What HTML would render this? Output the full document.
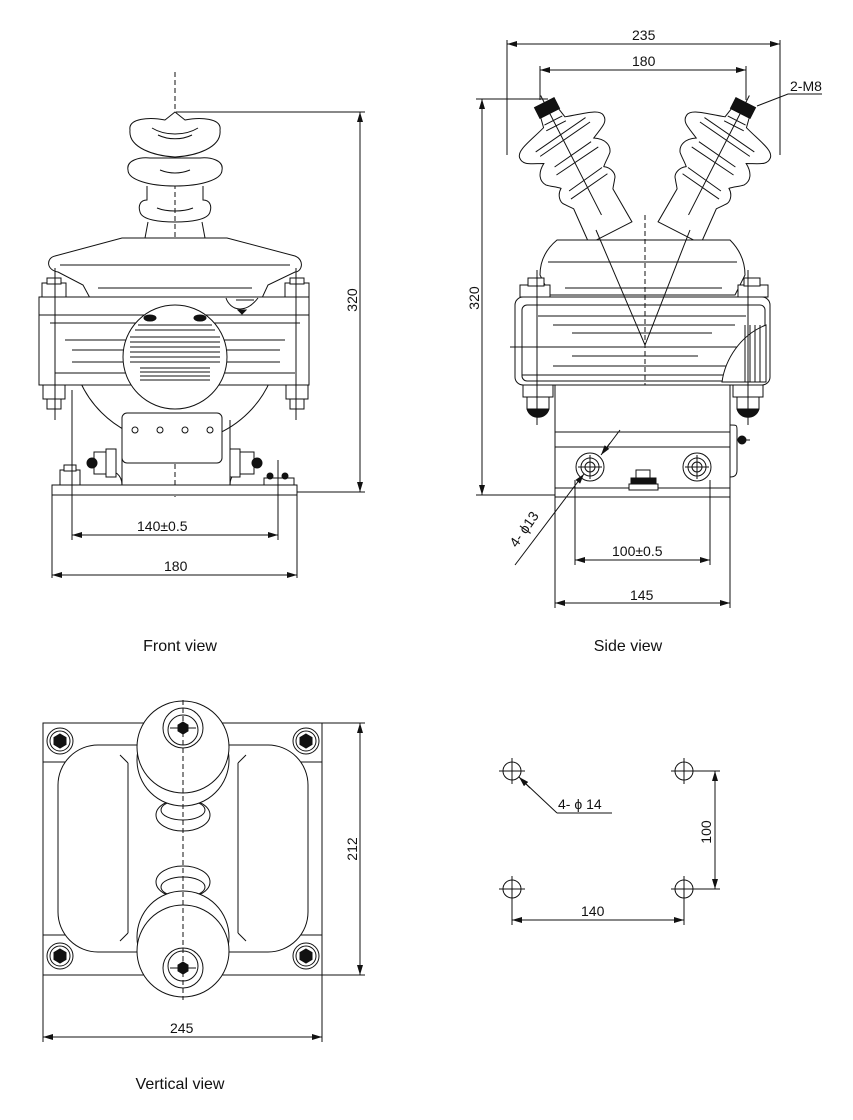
<!DOCTYPE html>
<html><head><meta charset="utf-8"><style>
html,body{margin:0;padding:0;background:#fff;}
svg{display:block;}
text{font-family:"Liberation Sans",Arial,sans-serif;fill:#111;}
</style></head><body>
<svg width="853" height="1120" viewBox="0 0 853 1120" xmlns="http://www.w3.org/2000/svg">
<defs>
<clipPath id="cb"><rect x="0" y="300" width="400" height="200"/></clipPath>
<marker id="a" viewBox="0 0 10 6" refX="10" refY="3" markerWidth="10" markerHeight="6" orient="auto-start-reverse" markerUnits="userSpaceOnUse"><path d="M0,0 L10,3 L0,6 z" fill="#111"/></marker>
<g id="ins">
  <path d="M-10,6 L-12,16 C-30,22 -46,24 -47,32 C-48,40 -40,42 -28,48 C-38,54 -40,62 -36,68 C-32,72 -28,74 -24,78 C-30,82 -32,90 -28,94 C-26,97 -24,99 -22,102 L-24,140 L24,140 L22,102 C24,99 26,97 28,94 C32,90 30,82 24,78 C28,74 32,72 36,68 C40,62 38,54 28,48 C40,42 48,40 47,32 C46,24 30,22 12,16 L10,6 Z" fill="#fff" stroke="#111" stroke-width="1"/>
  <rect x="-11" y="-6" width="22" height="12" fill="#111"/>
  <path d="M-30,34 L30,26 M-28,40 L32,32 M-20,56 L24,50 M-22,64 L28,58 M-18,84 L22,78 M-20,92 L24,86 M-10,14 L10,14 M-11,20 L11,20 M0,-14 L0,120" stroke="#111" stroke-width="1" fill="none"/>
</g>
<g id="bolt"><circle r="13" fill="#fff" stroke="#111"/><circle r="10" fill="none" stroke="#111"/><path d="M0,-7 L6,-3.5 L6,3.5 L0,7 L-6,3.5 L-6,-3.5z" fill="#111"/></g>
<g id="mh"><circle r="9" fill="none" stroke="#111"/><path d="M-13,0 H13 M0,-13 V13" stroke="#111"/></g>
</defs>
<g stroke="#111" stroke-width="1" fill="none">
<!-- FRONT VIEW -->
<line x1="175" y1="72" x2="175" y2="497" stroke-dasharray="5,3"/>
<circle cx="175" cy="339" r="104" fill="#fff" clip-path="url(#cb)"/>
<path d="M130,130 C128,118 150,117 165,120 L175,112 L185,120 C200,117 222,118 220,130 C222,148 195,156 175,157 C155,156 128,148 130,130 Z" fill="#fff"/>
<path d="M128,170 C126,160 140,157 150,158 L200,158 C210,157 224,160 222,170 C222,180 200,186 175,186 C150,186 128,180 128,170 Z" fill="#fff"/>
<path d="M147,186 L147,200 C140,200 138,206 140,212 C142,220 160,222 175,222 C190,222 208,220 210,212 C212,206 210,200 203,200 L203,186"/>
<path d="M148,222 L145,238 M202,222 L205,238"/>
<path d="M152,128 C165,136 185,136 198,128 M158,135 C168,140 182,140 192,135 M160,170 C170,174 180,174 190,170 M157,208 C167,212 183,212 193,208"/>
<path d="M122,238 L227,238 L295,256 C305,260 302,272 295,272 L268,285 L262,298 L90,298 L83,285 L58,272 C46,270 46,258 55,256 Z" fill="#fff"/>
<path d="M60,265 L290,265 M98,288 L252,288"/>
<rect x="39" y="297" width="270" height="88" fill="#fff"/>
<path d="M39,315 H309 M50,323 H300 M65,340 H285 M72,350 H280 M72,362 H280 M55,373 H295"/>
<circle cx="175" cy="357" r="52" fill="#fff"/>
<path d="M138,325 H212 M135,330 H215 M130,337 H220 M130,342 H220 M130,347 H220 M130,352 H220 M130,357 H220 M130,362 H220 M140,368 H210 M140,372 H210 M140,376 H210 M140,380 H210"/>
<ellipse cx="150" cy="318" rx="6" ry="3" fill="#111"/><ellipse cx="200" cy="318" rx="6" ry="3" fill="#111"/>
<path d="M226,298 C230,310 245,315 258,298" fill="#fff"/><path d="M236,300 H254"/><path d="M238,310 L242,314 L246,310Z" fill="#111"/>
<rect x="42" y="283" width="24" height="14" fill="#fff"/><rect x="47" y="278" width="14" height="6" fill="#fff"/>
<rect x="285" y="283" width="24" height="14" fill="#fff"/><rect x="290" y="278" width="14" height="6" fill="#fff"/>
<rect x="43" y="385" width="22" height="14" fill="#fff"/><rect x="47" y="399" width="14" height="10" fill="#fff"/>
<rect x="286" y="385" width="22" height="14" fill="#fff"/><rect x="290" y="399" width="14" height="10" fill="#fff"/>
<path d="M55,268 V420 M296,268 V420"/>
<rect x="122" y="413" width="100" height="50" rx="5" fill="#fff"/>
<circle cx="135" cy="430" r="3"/><circle cx="160" cy="430" r="3"/><circle cx="185" cy="430" r="3"/><circle cx="210" cy="430" r="3"/>
<path d="M122,420 V485 M230,420 V485 M122,485 C122,475 115,470 105,470 M230,485 C230,475 237,470 245,470"/>
<rect x="94" y="452" width="20" height="22" fill="#fff"/><rect x="106" y="449" width="10" height="28" fill="#fff"/><circle cx="92" cy="463" r="5" fill="#111"/>
<rect x="236" y="452" width="18" height="22" fill="#fff"/><rect x="230" y="449" width="10" height="28" fill="#fff"/><circle cx="257" cy="463" r="5" fill="#111"/>
<rect x="60" y="470" width="20" height="15" fill="#fff"/><rect x="64" y="465" width="12" height="6" fill="#fff"/>
<rect x="264" y="478" width="30" height="7"/><circle cx="270" cy="476" r="3" fill="#111"/><circle cx="285" cy="476" r="3" fill="#111"/>
<rect x="52" y="485" width="245" height="10" fill="#fff"/>
<path d="M72,390 V540 M278,460 V540 M52,495 V578 M297,495 V578"/>
<line x1="72" y1="535" x2="278" y2="535" marker-start="url(#a)" marker-end="url(#a)"/>
<line x1="52" y1="575" x2="297" y2="575" marker-start="url(#a)" marker-end="url(#a)"/>
<path d="M176,112 H365 M297,492 H365"/>
<line x1="360" y1="112" x2="360" y2="492" marker-start="url(#a)" marker-end="url(#a)"/>

<!-- SIDE VIEW -->
<path d="M507,40 V155 M780,40 V155 M540,66 V100 M746,66 V100"/>
<line x1="507" y1="44" x2="780" y2="44" marker-start="url(#a)" marker-end="url(#a)"/>
<line x1="540" y1="70" x2="746" y2="70" marker-start="url(#a)" marker-end="url(#a)"/>
<path d="M757,106 L788,94 H822"/>
<path d="M476,99 H548 M476,495 H556"/>
<line x1="482" y1="99" x2="482" y2="495" marker-start="url(#a)" marker-end="url(#a)"/>
<use href="#ins" transform="translate(547,108) rotate(-27)"/>
<use href="#ins" transform="translate(743,108) scale(-1,1) rotate(-27)"/>
<path d="M557,240 L730,240 C740,250 745,262 745,275 L735,295 L550,295 L540,275 C540,262 545,250 557,240 Z" fill="#fff"/>
<path d="M548,262 H737 M565,288 H722"/>
<rect x="515" y="297" width="255" height="88" rx="8" fill="#fff"/>
<rect x="522" y="305" width="243" height="76" rx="5" fill="#fff"/>
<path d="M538,316 H746 M553,325 H735 M572,333 H712 M510,347 H765 M572,356 H698 M553,366 H735 M522,375 H765"/>
<path d="M766,325 C740,335 725,360 722,382 L766,382 Z" fill="#fff"/>
<path d="M745,325 V382 M750,325 V382 M755,325 V382 M760,325 V382"/>
<path d="M596,230 L645,345 L690,230"/>
<line x1="645" y1="215" x2="645" y2="497" stroke-dasharray="5,3"/>
<rect x="520" y="285" width="30" height="12" fill="#fff"/><rect x="528" y="278" width="16" height="8" fill="#fff"/>
<rect x="738" y="285" width="30" height="12" fill="#fff"/><rect x="744" y="278" width="16" height="8" fill="#fff"/>
<rect x="523" y="385" width="30" height="12" fill="#fff"/><rect x="527" y="397" width="22" height="12" fill="#fff"/><path d="M527,409 C530,420 546,420 549,409" fill="#111"/>
<rect x="733" y="385" width="30" height="12" fill="#fff"/><rect x="737" y="397" width="22" height="12" fill="#fff"/><path d="M737,409 C740,420 756,420 759,409" fill="#111"/>
<path d="M537,270 V425 M748,270 V425"/>
<rect x="555" y="385" width="175" height="112" fill="#fff"/>
<path d="M555,432 H730 M555,447 H730 M555,488 H730"/>
<path d="M730,425 C737,425 737,425 737,430 V470 C737,475 735,477 730,477"/><path d="M737,440 H750"/><circle cx="742" cy="440" r="4" fill="#111"/>
<circle cx="590" cy="467" r="14"/><circle cx="590" cy="467" r="9"/><circle cx="590" cy="467" r="5"/><path d="M578,467 H602 M590,455 V479"/>
<circle cx="697" cy="467" r="14"/><circle cx="697" cy="467" r="9"/><circle cx="697" cy="467" r="5"/><path d="M685,467 H709 M697,455 V479"/>
<rect x="636" y="470" width="14" height="8" fill="#fff"/><rect x="631" y="478" width="25" height="6" fill="#111"/><rect x="629" y="484" width="29" height="6" fill="#fff"/>
<path d="M575,480 V565 M710,480 V565 M555,497 V608 M730,497 V608"/>
<line x1="575" y1="560" x2="710" y2="560" marker-start="url(#a)" marker-end="url(#a)"/>
<line x1="555" y1="603" x2="730" y2="603" marker-start="url(#a)" marker-end="url(#a)"/>
<path d="M515,565 L580,479"/><line x1="580" y1="479" x2="584" y2="474" marker-end="url(#a)"/>
<path d="M620,430 L605,450"/><line x1="610" y1="443" x2="601" y2="455" marker-end="url(#a)"/>

<!-- VERTICAL VIEW -->
<rect x="43" y="723" width="279" height="252" fill="#fff"/>
<path d="M43,762 H322 M43,935 H322"/>
<rect x="58" y="745" width="250" height="207" rx="40" fill="#fff"/>
<path d="M128,763 V933 M238,763 V933 M120,755 L128,763 M246,755 L238,763 M120,941 L128,933 M246,941 L238,933"/>
<use href="#bolt" x="60" y="741"/><use href="#bolt" x="306" y="741"/><use href="#bolt" x="60" y="956"/><use href="#bolt" x="306" y="956"/>
<ellipse cx="183" cy="815" rx="27" ry="16" fill="#fff"/><ellipse cx="183" cy="810" rx="22" ry="10"/>
<ellipse cx="183" cy="882" rx="27" ry="16" fill="#fff"/><ellipse cx="183" cy="887" rx="22" ry="10"/>
<circle cx="183" cy="760" r="46" fill="#fff"/><circle cx="183" cy="747" r="46" fill="#fff"/>
<circle cx="183" cy="937" r="46" fill="#fff"/><circle cx="183" cy="951" r="46" fill="#fff"/>
<circle cx="183" cy="728" r="20"/><circle cx="183" cy="730" r="15"/><path d="M183,722 L188,725 L188,731 L183,734 L178,731 L178,725z" fill="#111"/><path d="M170,728 H196"/>
<circle cx="183" cy="968" r="20"/><circle cx="183" cy="966" r="15"/><path d="M183,962 L188,965 L188,971 L183,974 L178,971 L178,965z" fill="#111"/><path d="M170,968 H196"/>
<line x1="183" y1="700" x2="183" y2="1000" stroke-dasharray="5,3"/>
<path d="M322,723 H365 M322,975 H365 M43,975 V1042 M322,975 V1042"/>
<line x1="360" y1="723" x2="360" y2="975" marker-start="url(#a)" marker-end="url(#a)"/>
<line x1="43" y1="1037" x2="322" y2="1037" marker-start="url(#a)" marker-end="url(#a)"/>

<!-- MOUNTING HOLES -->
<use href="#mh" x="512" y="771"/><use href="#mh" x="684" y="771"/><use href="#mh" x="512" y="889"/><use href="#mh" x="684" y="889"/>
<path d="M684,771 H720 M684,889 H720 M512,889 V925 M684,889 V925"/>
<line x1="715" y1="771" x2="715" y2="889" marker-start="url(#a)" marker-end="url(#a)"/>
<line x1="512" y1="920" x2="684" y2="920" marker-start="url(#a)" marker-end="url(#a)"/>
<path d="M557,813 H612 M557,813 L524,782"/><line x1="530" y1="788" x2="519" y2="777" marker-end="url(#a)"/>
</g>
<g font-size="14">
<text x="137" y="531">140±0.5</text>
<text x="164" y="571">180</text>
<text x="357" y="300" transform="rotate(-90 357 300)" text-anchor="middle">320</text>
<text x="632" y="40">235</text>
<text x="632" y="66">180</text>
<text x="790" y="91">2-M8</text>
<text x="479" y="298" transform="rotate(-90 479 298)" text-anchor="middle">320</text>
<text x="612" y="556">100±0.5</text>
<text x="630" y="600">145</text>
<text x="528" y="532" transform="rotate(-55 528 532)" text-anchor="middle">4- ϕ13</text>
<text x="357" y="849" transform="rotate(-90 357 849)" text-anchor="middle">212</text>
<text x="170" y="1033">245</text>
<text x="711" y="832" transform="rotate(-90 711 832)" text-anchor="middle">100</text>
<text x="581" y="916">140</text>
<text x="558" y="809">4- ϕ 14</text>
</g>
<g font-size="16">
<text x="180" y="651" text-anchor="middle">Front view</text>
<text x="628" y="651" text-anchor="middle">Side view</text>
<text x="180" y="1089" text-anchor="middle">Vertical view</text>
</g>
</svg>
</body></html>
